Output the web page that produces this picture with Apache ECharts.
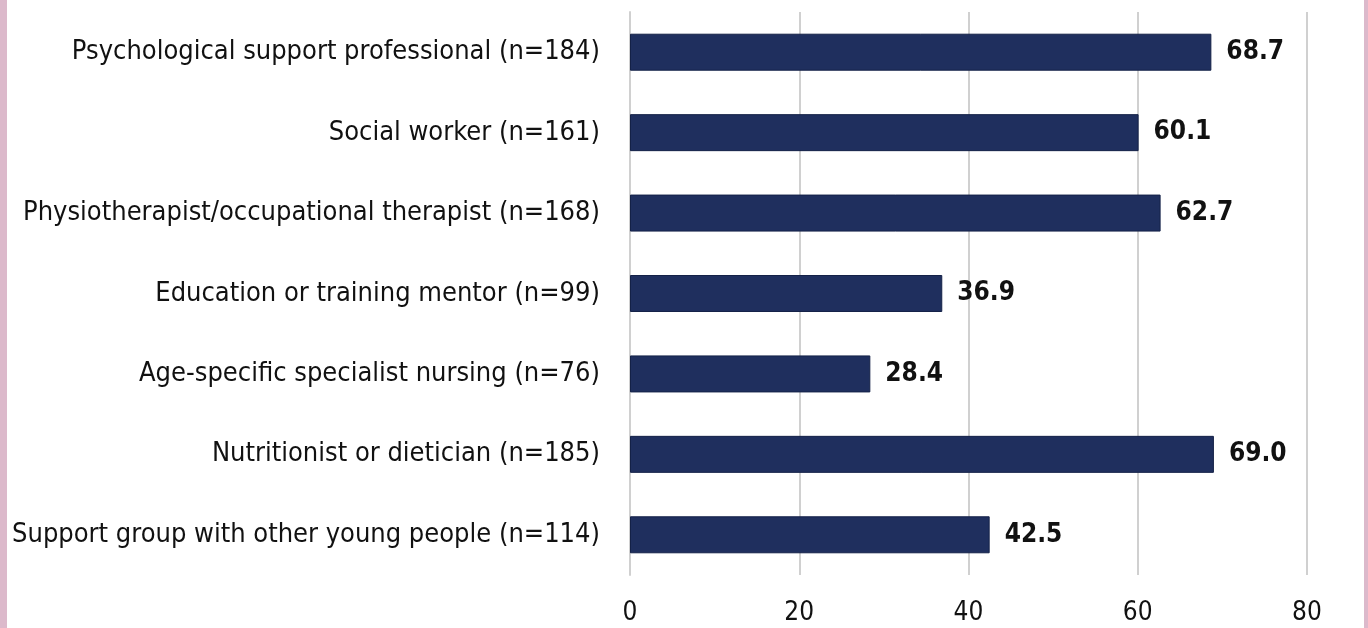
<!DOCTYPE html>
<html>
<head>
<meta charset="utf-8">
<title>Support professionals</title>
<script src="https://cdn.jsdelivr.net/npm/echarts@6/dist/echarts.min.js"></script>
<style>
  html, body { margin: 0; padding: 0; background: #fff; }
  #main { width: 1368px; height: 628px; }
</style>
</head>
<body>
<div id="main"></div>
<script>
// categories listed top to bottom
var categories = [
  'Psychological support professional (n=184)',
  'Social worker (n=161)',
  'Physiotherapist/occupational therapist (n=168)',
  'Education or training mentor (n=99)',
  'Age-specific specialist nursing (n=76)',
  'Nutritionist or dietician (n=185)',
  'Support group with other young people (n=114)'
];
var values = [68.7, 60.1, 62.7, 36.9, 28.4, 69.0, 42.5];
var xTicks = [0, 20, 40, 60, 80];

var myChart = echarts.init(document.getElementById('main'));

var option = {
  animation: false,
  backgroundColor: '#ffffff',
  graphic: [
    { type: 'rect', left: 0, top: 0, shape: { width: 7, height: 628 }, style: { fill: '#dcb9cb' } },
    { type: 'rect', left: 1364, top: 0, shape: { width: 4, height: 628 }, style: { fill: '#dcb9cb' } }
  ],
  grid: { left: 630, top: 12, width: 677, height: 563 },
  xAxis: {
    type: 'value',
    min: xTicks[0],
    max: xTicks[xTicks.length - 1],
    interval: 20,
    axisLine: { show: false },
    axisTick: { show: false },
    splitLine: { lineStyle: { color: '#d0d0d0', width: 2 } },
    axisLabel: {
      margin: 25,
      color: '#111',
      fontFamily: 'DejaVu Sans Condensed',
      fontSize: 26
    }
  },
  yAxis: {
    type: 'category',
    inverse: true,
    data: categories,
    axisLine: { show: true, lineStyle: { color: '#d0d0d0', width: 2 } },
    axisTick: { show: false },
    axisLabel: {
      margin: 30,
      color: '#111',
      fontFamily: 'DejaVu Sans Condensed',
      fontSize: 27
    }
  },
  series: [{
    type: 'bar',
    data: values,
    barCategoryGap: '54%',
    itemStyle: { color: '#1f2f5e', borderColor: '#142147', borderWidth: 1 },
    label: {
      show: true,
      position: 'right',
      distance: 15,
      color: '#111',
      fontFamily: 'DejaVu Sans Condensed',
      fontWeight: 'bold',
      fontSize: 26,
      formatter: function (p) { return p.value.toFixed(1); }
    }
  }]
};

myChart.setOption(option);
</script>
</body>
</html>
